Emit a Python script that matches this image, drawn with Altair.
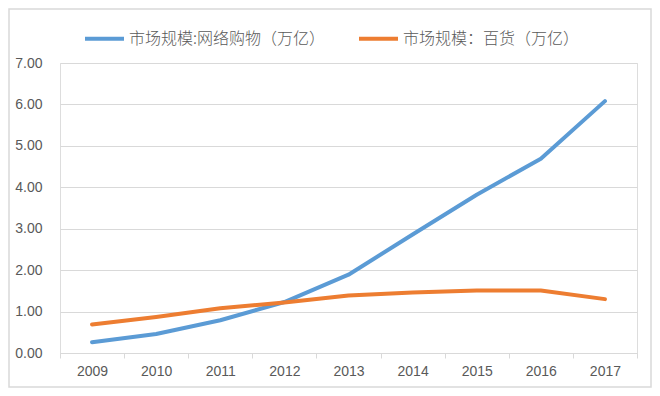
import altair as alt
import pandas as pd

years = ["2009", "2010", "2011", "2012", "2013", "2014", "2015", "2016", "2017"]
online = [0.26, 0.46, 0.79, 1.23, 1.89, 2.86, 3.82, 4.69, 6.08]
dept = [0.69, 0.87, 1.08, 1.22, 1.39, 1.46, 1.51, 1.51, 1.30]
series_names = ["市场规模:网络购物（万亿）", "市场规模：百货（万亿）"]
colors = ["#5B9BD5", "#ED7D31"]
y_ticks = [0, 1, 2, 3, 4, 5, 6, 7]

rows = []
for y, v in zip(years, online):
    rows.append({"year": y, "value": v, "series": series_names[0]})
for y, v in zip(years, dept):
    rows.append({"year": y, "value": v, "series": series_names[1]})
df = pd.DataFrame(rows)

W, H = 577, 290
PAD = {"left": 52, "top": 55, "right": 15, "bottom": 35}

lines = alt.Chart(df).mark_line(strokeWidth=4, strokeCap="round", strokeJoin="round").encode(
    x=alt.X("year:O", sort=years,
            scale=alt.Scale(type="band", paddingInner=0, paddingOuter=0),
            axis=alt.Axis(title=None, labelAngle=0, tickBand="extent", grid=False,
                          domainColor="#D9D9D9", tickColor="#D9D9D9", tickSize=5,
                          labelFont="Liberation Sans", labelFontSize=14, labelColor="#595959",
                          labelPadding=6)),
    y=alt.Y("value:Q", scale=alt.Scale(domain=[0, 7], nice=False),
            axis=alt.Axis(title=None, values=y_ticks, format=".2f", domain=False, ticks=False,
                          gridColor="#D9D9D9", gridWidth=1,
                          labelFont="Liberation Sans", labelFontSize=14, labelColor="#595959",
                          labelPadding=18)),
    color=alt.Color("series:N", sort=series_names,
                    scale=alt.Scale(domain=series_names, range=colors),
                    legend=alt.Legend(title=None, orient="none", direction="horizontal",
                                      legendX=23, legendY=-46,
                                      symbolType="stroke", symbolSize=1521, symbolStrokeWidth=4,
                                      labelFont="Noto Sans CJK SC", labelFontSize=16,
                                      labelFontWeight=300,
                                      labelColor="#595959", labelLimit=0, labelOffset=3,
                                      columnPadding=25)),
)

border = alt.Chart(pd.DataFrame({"a": [0]})).mark_rect(
    fill="transparent", stroke="#D9D9D9", strokeWidth=1.5
).encode(
    x=alt.value(-PAD["left"] + 1),
    x2=alt.value(W + PAD["right"] - 1),
    y=alt.value(-PAD["top"] + 1),
    y2=alt.value(H + PAD["bottom"] - 1),
)

chart = alt.layer(lines, border).properties(
    width=W, height=H,
    autosize=alt.AutoSizeParams(type="none"),
    padding=PAD,
).configure_view(stroke=None).configure(background="white")

chart.save("out.html", embed_options={"renderer": "svg", "actions": False})
